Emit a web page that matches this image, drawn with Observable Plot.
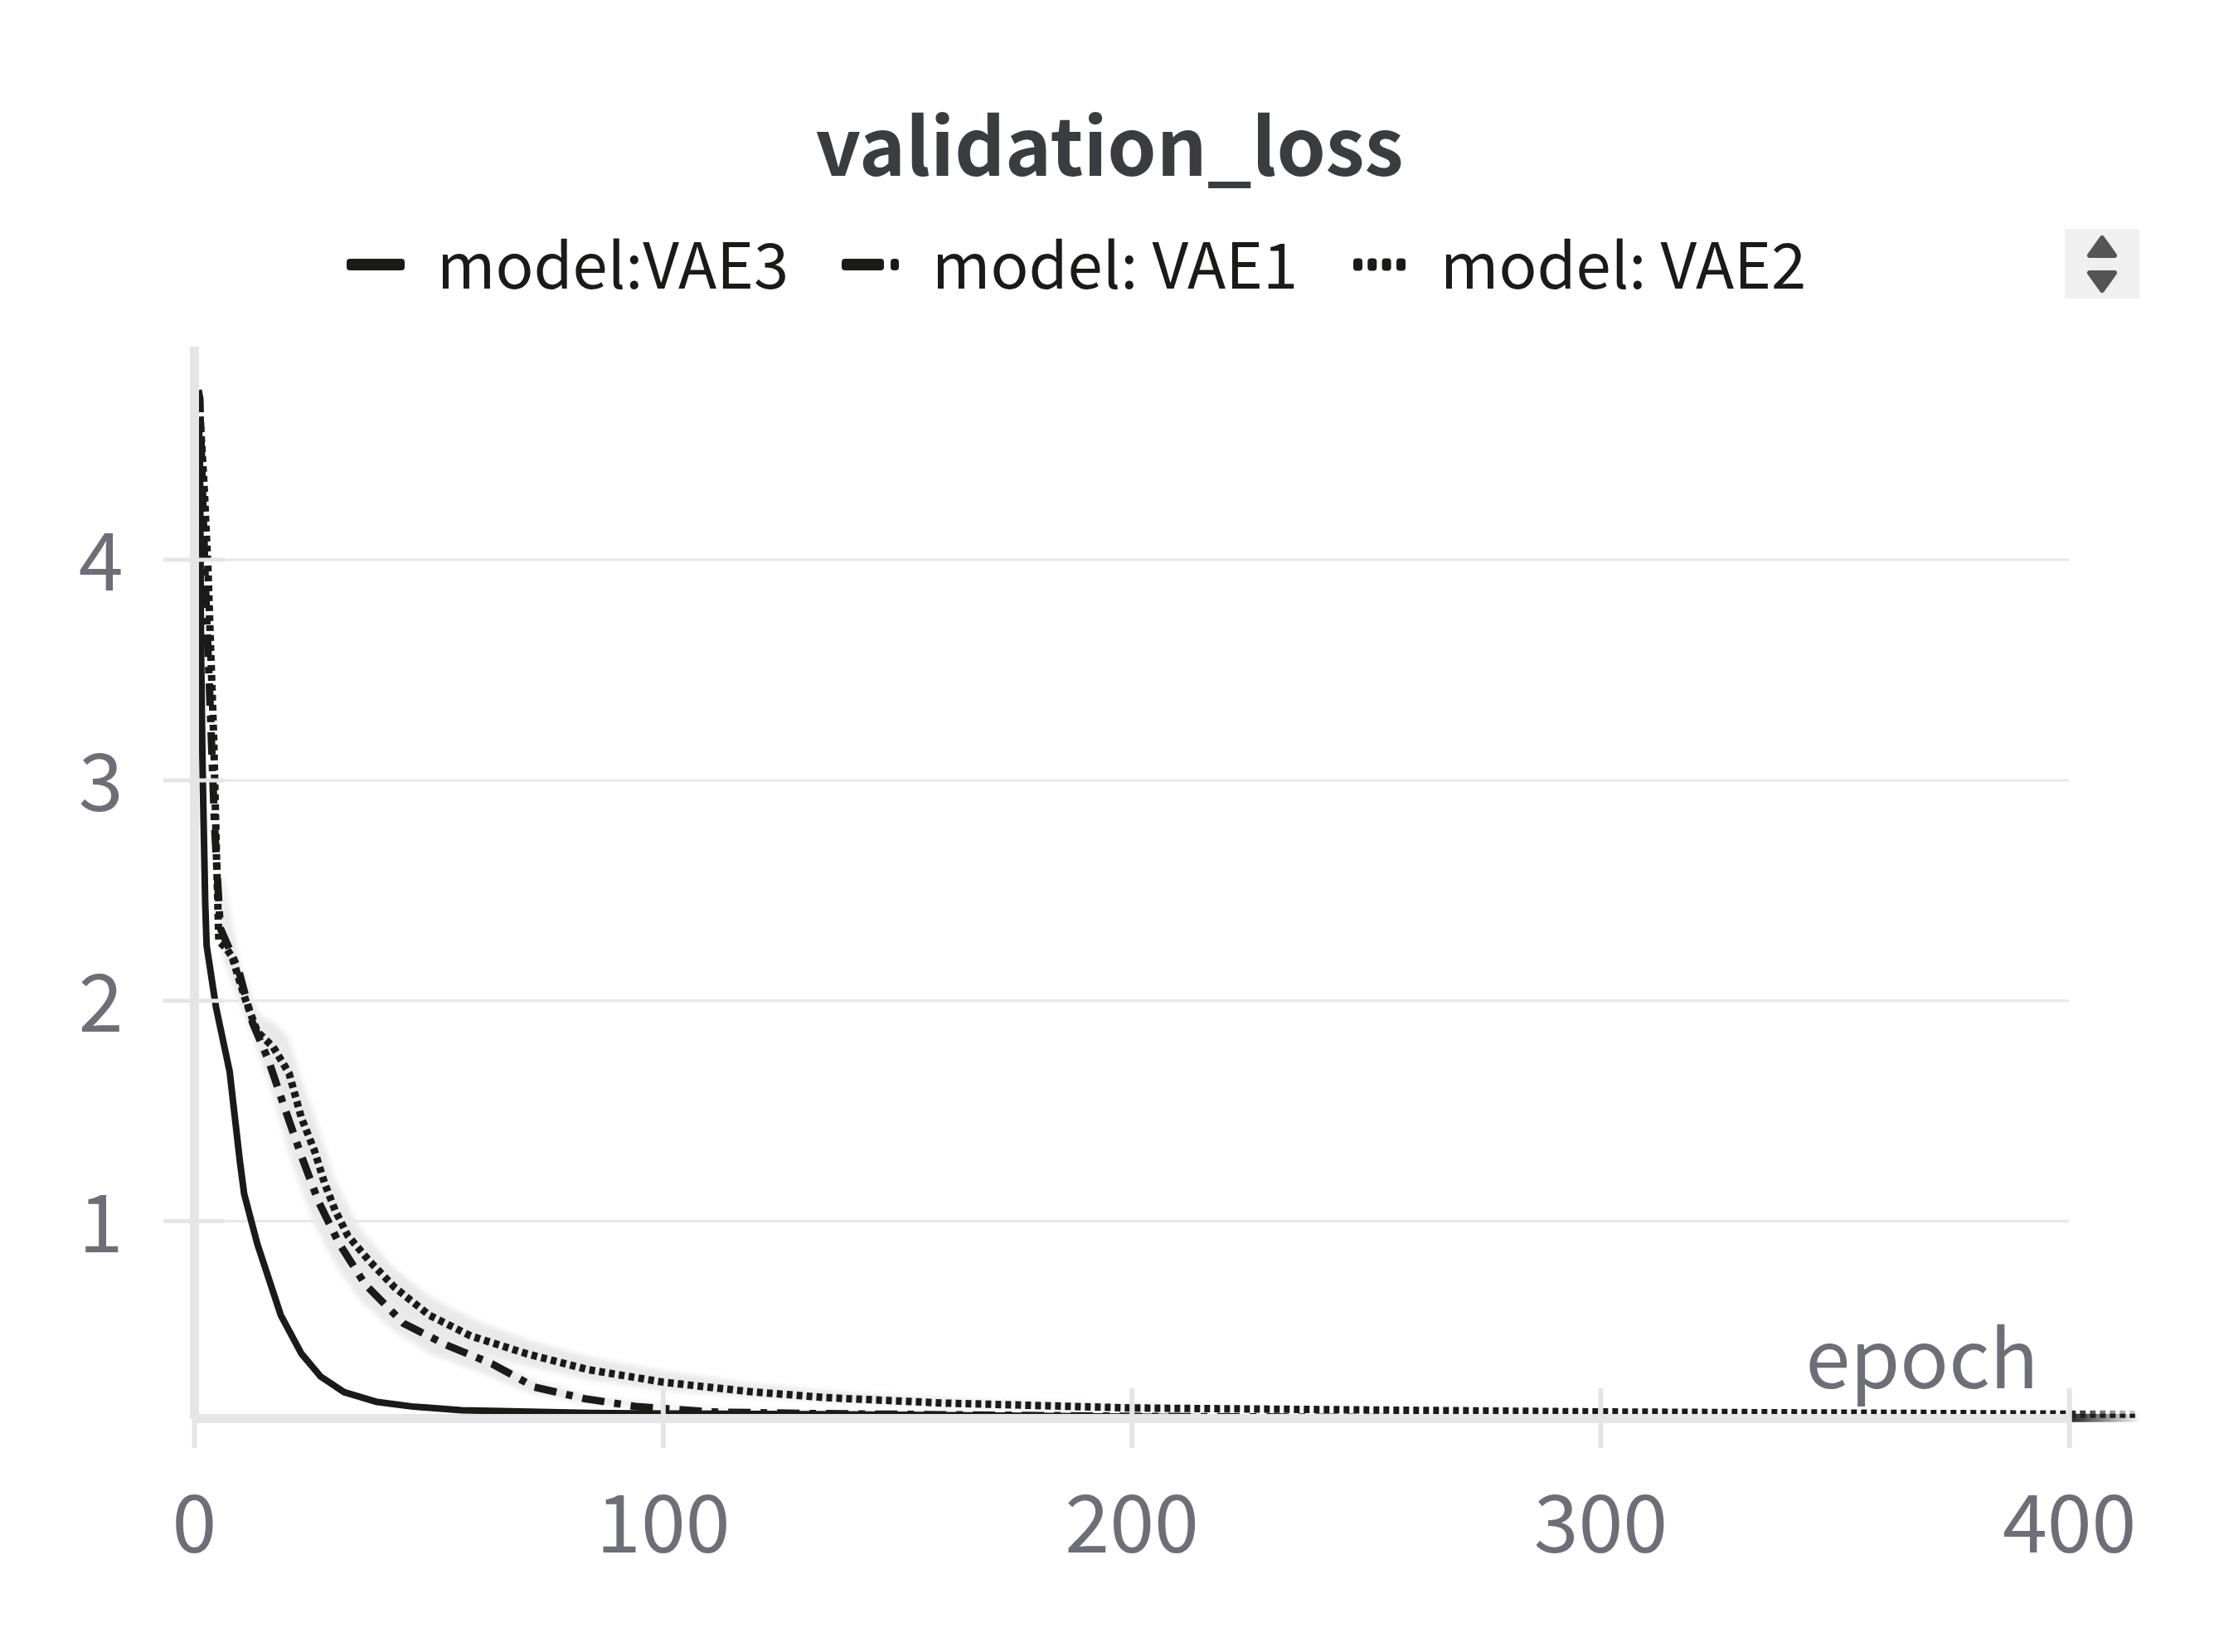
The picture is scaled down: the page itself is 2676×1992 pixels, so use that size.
<!DOCTYPE html>
<html>
<head>
<meta charset="utf-8">
<script src="https://cdn.jsdelivr.net/npm/d3@7"></script>
<script src="https://cdn.jsdelivr.net/npm/@observablehq/plot@0.6"></script>
<style>
  html, body { margin: 0; padding: 0; background: #fff; }
  body { width: 2676px; height: 1992px; overflow: hidden; font-family: "Noto Sans CJK JP", "Noto Sans", sans-serif; }
  #head { position: relative; height: 400px; }
  #title { position: absolute; left: 0; width: 2676px; top: 96px; text-align: center; font-size: 95px; line-height: 150px; font-weight: 700; color: #3a3d40; }
  .lg { position: absolute; top: 255px; font-size: 76px; line-height: 120px; color: #1a1a18; white-space: pre; }
  svg.sw { position: absolute; top: 300px; }
  #chart svg { display: block; }
</style>
</head>
<body>
<div id="head">
  <div id="title"></div>
</div>
<div id="chart"></div>
<script>
const chartTitle = "validation_loss";
const xLabel = "epoch";
const xTicks = [0, 100, 200, 300, 400];
const yTicks = [1, 2, 3, 4];
const seriesNames = ["model:VAE3", "model: VAE1", "model: VAE2"];

const vae3Epochs = [1, 1.2, 1.4, 1.7, 1.9, 2.3, 2.6, 4.6, 6.7, 7.5, 9.7, 10.6, 13.4, 18.4, 22.8, 26.9, 31.9, 39, 46.3, 57, 84, 150, 250, 400];
const vae3Loss   = [4.6, 4.4, 3.6, 3.1, 2.87, 2.44, 2.25, 1.97, 1.76, 1.68, 1.27, 1.124, 0.898, 0.575, 0.40, 0.296, 0.225, 0.18, 0.16, 0.143, 0.13, 0.122, 0.105, 0.105];

const vae1Epochs = [0.8, 1.15, 1.6, 2.3, 3.4, 4.3, 5.5, 9.4, 12.4, 15.8, 18.7, 22.8, 26.5, 30.9, 36.4, 44.6, 53.6, 63.5, 72.5, 83.3, 94.1, 110, 130, 200, 300, 400];
const vae1Loss   = [4.77, 4.73, 4.39, 3.91, 3.31, 2.79, 2.33, 2.14, 1.90, 1.73, 1.547, 1.297, 1.087, 0.898, 0.714, 0.537, 0.44, 0.353, 0.248, 0.195, 0.16, 0.135, 0.128, 0.115, 0.105, 0.105];

const vae2Epochs = [1.2, 2.1, 2.9, 3.4, 4.1, 4.7, 5.2, 6.7, 8, 10.8, 13.4, 16.8, 20.2, 22.8, 25.6, 27.8, 30, 32.7, 37.3, 42.7, 50, 58.9, 70.7, 84.2, 100, 118.5, 134.7, 160, 200, 300, 400, 414];
const vae2Loss   = [4.65, 4.32, 3.95, 3.63, 3.2, 2.66, 2.27, 2.24, 2.2, 2.01, 1.86, 1.79, 1.67, 1.47, 1.32, 1.17, 1.05, 0.935, 0.82, 0.70, 0.575, 0.48, 0.40, 0.326, 0.27, 0.227, 0.20, 0.175, 0.153, 0.135, 0.125, 0.125];

const bandEpochs = [6, 10, 14, 17, 20, 23, 26, 30, 35, 42, 50, 60, 72, 85, 100, 120, 140, 170, 210];
const vae2High   = [2.6, 2.12, 1.93, 1.9, 1.84, 1.64, 1.46, 1.19, 0.98, 0.80, 0.66, 0.55, 0.455, 0.38, 0.32, 0.26, 0.22, 0.185, 0.16];
const vae2Low    = [2.2, 1.98, 1.78, 1.66, 1.5, 1.26, 1.08, 0.88, 0.74, 0.61, 0.49, 0.40, 0.335, 0.275, 0.23, 0.2, 0.175, 0.16, 0.145];
const vae1High   = [2.42, 2.14, 1.9, 1.75, 1.58, 1.4, 1.22, 1.02, 0.82, 0.64, 0.515, 0.42, 0.28, 0.205, 0.165, 0.145, 0.14, 0.135, 0.135];
const vae1Low    = [2.28, 2.02, 1.74, 1.56, 1.32, 1.14, 0.97, 0.81, 0.65, 0.51, 0.40, 0.32, 0.215, 0.17, 0.15, 0.14, 0.135, 0.13, 0.13];

const rows = (xs, ys) => xs.map((x, i) => ({x, y: ys[i]}));
const bands = (hi, lo) => bandEpochs.map((x, i) => ({x, y1: lo[i], y2: hi[i]}));

const INK = "#1a1a18", AXIS = "#e5e5e8", GRID = "#e8e8ea", LABEL = "#6e6e78", BAND = "#e9e9e9";
const yFloor = 0.105, yCeil = 4.965;
const dashDot = "27,12,8,12", dots = "7,5";

const font = '"Noto Sans CJK JP", "Noto Sans", sans-serif';

const gradient = () => {
  const s = d3.create("svg:defs");
  const g = s.append("linearGradient").attr("id", "fade");
  g.append("stop").attr("offset", "0%").attr("stop-color", "#222").attr("stop-opacity", 1);
  g.append("stop").attr("offset", "100%").attr("stop-color", "#222").attr("stop-opacity", 0.02);
  const w = s.append("linearGradient").attr("id", "fadeWhite");
  w.append("stop").attr("offset", "0%").attr("stop-color", "#fff").attr("stop-opacity", 0);
  w.append("stop").attr("offset", "100%").attr("stop-color", "#fff").attr("stop-opacity", 0.85);
  return s.node();
};

const plot = Plot.plot({
  width: 2676,
  height: 1592,
  marginTop: 18,
  marginBottom: 282,
  marginLeft: 234,
  marginRight: 96,
  x: {type: "linear", domain: [0, 415]},
  y: {type: "linear", domain: [yFloor, yCeil]},
  style: {fontFamily: font, background: "#fff", overflow: "visible"},
  marks: [
    gradient,
    Plot.ruleY(yTicks, {x1: 0, x2: 400, stroke: GRID, strokeWidth: 3}),
    Plot.areaY(bands(vae2High, vae2Low), {x: "x", y1: "y1", y2: "y2", fill: BAND, curve: "linear", imageFilter: "blur(3px)"}),
    Plot.areaY(bands(vae1High, vae1Low), {x: "x", y1: "y1", y2: "y2", fill: BAND, curve: "linear", imageFilter: "blur(3px)"}),
    Plot.line(rows(vae3Epochs, vae3Loss), {x: "x", y: "y", stroke: INK, strokeWidth: 8, strokeLinecap: "butt"}),
    Plot.line(rows(vae1Epochs, vae1Loss), {x: "x", y: "y", stroke: INK, strokeWidth: 9, strokeDasharray: dashDot, strokeLinecap: "butt"}),
    Plot.line(rows(vae2Epochs, vae2Loss), {x: "x", y: "y", stroke: INK, strokeWidth: 9, strokeDasharray: dots, strokeLinecap: "butt"}),
    Plot.ruleX([0], {y1: yFloor, y2: yCeil, stroke: AXIS, strokeWidth: 11}),
    Plot.ruleY([yFloor], {x1: 0, x2: 400, stroke: AXIS, strokeWidth: 11}),
    Plot.rect([{x1: 400, x2: 415, y1: 0.087, y2: 0.125}], {x1: "x1", x2: "x2", y1: "y1", y2: "y2", fill: "url(#fade)"}),
    Plot.rect([{x1: 400, x2: 415, y1: 0.125, y2: 0.15}], {x1: "x1", x2: "x2", y1: "y1", y2: "y2", fill: "url(#fadeWhite)"}),
    Plot.axisX({ticks: xTicks, tickSize: 72, dy: -36, stroke: AXIS, strokeWidth: 6, text: null, label: null}),
    Plot.axisY({ticks: yTicks, tickSize: 74, dx: 37, stroke: AXIS, strokeWidth: 5, text: null, label: null}),
    Plot.axisX({ticks: xTicks, tickSize: 0, tickPadding: 93, fontSize: 97, color: LABEL, label: null, tickFormat: d => d}),
    Plot.axisY({ticks: yTicks, tickSize: 0, tickPadding: 86, dy: 6, fontSize: 97, color: LABEL, label: null, tickFormat: d => d}),
    Plot.text([xLabel], {frameAnchor: "bottom-right", dx: -122, dy: -37, lineAnchor: "bottom", fontSize: 97, fill: LABEL})
  ]
});
document.getElementById("chart").appendChild(plot);
document.getElementById("title").textContent = chartTitle;

// Legend above the chart
const head = d3.select("#head");
const labelLefts = [527, 1124, 1737];
const swatches = [
  {left: 418, w: 70, h: 14, parts: [[0, 70]]},
  {left: 1015, w: 70, h: 14, parts: [[0, 51], [59, 10]]},
  {left: 1632, w: 64, h: 15, parts: [[0, 11], [17.3, 11], [34.6, 11], [52, 11]]}
];
seriesNames.forEach((name, i) => {
  const s = swatches[i];
  const svg = head.append("svg").attr("class", "sw").attr("width", s.w).attr("height", 40).style("left", s.left + "px");
  s.parts.forEach(([x, w]) => svg.append("rect")
    .attr("x", x).attr("width", w).attr("y", 19 - s.h / 2).attr("height", s.h)
    .attr("rx", 4).attr("fill", INK));
  head.append("span").attr("class", "lg").style("left", labelLefts[i] + "px").text(name);
});

// Scroll control for the legend
const ctl = head.append("svg").attr("width", 90).attr("height", 84)
  .style("position", "absolute").style("left", "2490px").style("top", "276px");
ctl.append("rect").attr("width", 90).attr("height", 84).attr("fill", "#f0f0f0");
ctl.append("path").attr("d", "M45 11 L30 32 L60 32 Z").attr("fill", "#555").attr("stroke", "#555").attr("stroke-width", 6).attr("stroke-linejoin", "round");
ctl.append("path").attr("d", "M45 74 L30 53 L60 53 Z").attr("fill", "#555").attr("stroke", "#555").attr("stroke-width", 6).attr("stroke-linejoin", "round");
</script>
</body>
</html>
